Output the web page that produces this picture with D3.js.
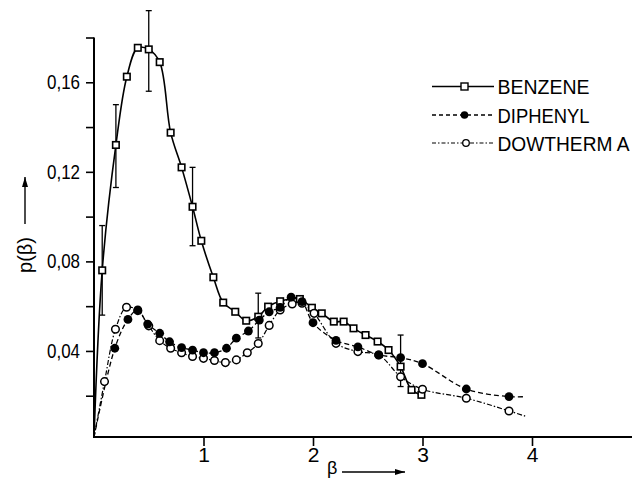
<!DOCTYPE html>
<html>
<head>
<meta charset="utf-8">
<script src="https://cdn.jsdelivr.net/npm/d3@7"></script>
<style>
  body { margin: 0; background: #fff; }
  text { font-family: "Liberation Sans", Arial, sans-serif; fill: #000; }
</style>
</head>
<body>
<svg id="chart" width="638" height="480"></svg>
<script>
// values
const benzeneBeta = [0.075, 0.20, 0.30, 0.40, 0.50, 0.60, 0.70, 0.80, 0.90, 0.98, 1.09, 1.18, 1.29, 1.39, 1.50, 1.59, 1.70, 1.88, 1.99, 2.08, 2.19, 2.28, 2.37, 2.48, 2.59, 2.69, 2.80, 2.90, 2.99];
const benzeneP = [0.076, 0.132, 0.1625, 0.1754, 0.1747, 0.169, 0.1375, 0.122, 0.1044, 0.0892, 0.0729, 0.0616, 0.0575, 0.0535, 0.0553, 0.0598, 0.0622, 0.0632, 0.0593, 0.0568, 0.0531, 0.0531, 0.0501, 0.0471, 0.0442, 0.0404, 0.033, 0.0226, 0.0204];

const diphenylBeta = [0.19, 0.31, 0.40, 0.49, 0.60, 0.69, 0.80, 0.90, 1.00, 1.10, 1.21, 1.30, 1.41, 1.51, 1.60, 1.70, 1.80, 1.90, 2.00, 2.21, 2.41, 2.60, 2.80, 3.00, 3.40, 3.79];
const diphenylP = [0.0412, 0.0541, 0.0583, 0.052, 0.0479, 0.0441, 0.0415, 0.0404, 0.0392, 0.0392, 0.0412, 0.0457, 0.0489, 0.0538, 0.0575, 0.0595, 0.064, 0.062, 0.0526, 0.0447, 0.0418, 0.0382, 0.037, 0.0343, 0.023, 0.0196];

const dowthermBeta = [0.096, 0.196, 0.297, 0.40, 0.50, 0.60, 0.70, 0.80, 0.90, 1.00, 1.10, 1.20, 1.30, 1.40, 1.50, 1.60, 1.70, 1.81, 1.90, 2.01, 2.21, 2.41, 2.60, 2.80, 3.00, 3.40, 3.79];
const dowthermP = [0.0263, 0.0497, 0.0595, 0.058, 0.0512, 0.0446, 0.0412, 0.0392, 0.0375, 0.0367, 0.0357, 0.0348, 0.036, 0.0392, 0.0433, 0.0514, 0.0583, 0.061, 0.0613, 0.0568, 0.0434, 0.0397, 0.0382, 0.0285, 0.0229, 0.0189, 0.0132];

// where the drawn curves start and run out past the last point
const lineStart = [0, 0.0015];
const diphenylEnd = [3.94, 0.0196];
const dowthermEnd = [3.95, 0.0107];

// error bars
const errBeta = [0.075, 0.20, 0.50, 0.90, 1.50, 2.80];
const errLow = [0.056, 0.113, 0.156, 0.087, 0.0458, 0.0241];
const errHigh = [0.096, 0.150, 0.192, 0.122, 0.0658, 0.0471];

const xTicks = [1, 2, 3, 4];
const yTicks = [0.02, 0.04, 0.06, 0.08, 0.10, 0.12, 0.14, 0.16, 0.18];
const yTickLabels = { 0.04: "0,04", 0.08: "0,08", 0.12: "0,12", 0.16: "0,16" };

const legendNames = ["BENZENE", "DIPHENYL", "DOWTHERM A"];
const legendWidths = [92, 92, 132]; // condensed lettering of the original

const svg = d3.select("#chart");

const x = d3.scaleLinear().domain([0, 4]).range([94, 532]);
const y = d3.scaleLinear().domain([0, 0.18]).range([440.5, 37.5]);
const axisY = 437; // baseline drawn just above p = 0

// axes
const yAxis = svg.append("g")
    .attr("transform", `translate(${x(0)},0)`)
    .call(d3.axisLeft(y).tickValues(yTicks).tickSize(8).tickPadding(6)
        .tickFormat(d => yTickLabels[d.toFixed(2) * 1] || ""));
yAxis.select(".domain").remove();
yAxis.selectAll("line").attr("stroke", "#000").attr("stroke-width", 1.6);
yAxis.selectAll("text").style("font-size", "20px").attr("fill", "#000")
    .filter(function () { return this.textContent; })
    .attr("textLength", 33).attr("lengthAdjust", "spacingAndGlyphs");

const xAxis = svg.append("g")
    .attr("transform", `translate(0,${axisY})`)
    .call(d3.axisBottom(x).tickValues(xTicks).tickSize(9).tickPadding(1).tickFormat(d3.format("d")));
xAxis.select(".domain").remove();
xAxis.selectAll("line").attr("stroke", "#000").attr("stroke-width", 1.6);
xAxis.selectAll("text").style("font-size", "21px").attr("fill", "#000");

svg.append("line")
    .attr("x1", x(0)).attr("x2", x(0))
    .attr("y1", y(0.18)).attr("y2", axisY)
    .attr("stroke", "#000").attr("stroke-width", 2);
svg.append("line")
    .attr("x1", x(0) - 1).attr("x2", 632)
    .attr("y1", axisY).attr("y2", axisY)
    .attr("stroke", "#000").attr("stroke-width", 2);

// axis titles with arrows
const arrow = (x1, y1, x2, y2) => {
    svg.append("line").attr("x1", x1).attr("y1", y1).attr("x2", x2).attr("y2", y2)
        .attr("stroke", "#000").attr("stroke-width", 1.4);
    const a = Math.atan2(y2 - y1, x2 - x1), L = 10, W = 3;
    const bx = x2 - L * Math.cos(a), by = y2 - L * Math.sin(a);
    svg.append("path")
        .attr("d", `M${x2},${y2}L${bx - W * Math.sin(a)},${by + W * Math.cos(a)}L${bx + W * Math.sin(a)},${by - W * Math.cos(a)}Z`)
        .attr("fill", "#000");
};

svg.append("text")
    .attr("transform", "translate(32,255) rotate(-90)")
    .attr("text-anchor", "middle")
    .style("font-size", "20px")
    .text("p(β)");
arrow(25, 224, 25, 177);

svg.append("text")
    .attr("x", 327).attr("y", 474)
    .style("font-size", "18px")
    .text("β");
arrow(342, 472, 405, 472);

// curves
const line = d3.line().x(d => x(d[0])).y(d => y(d[1])).curve(d3.curveCatmullRom.alpha(0.5));
const zip = (a, b) => a.map((v, i) => [v, b[i]]);

const benzene = zip(benzeneBeta, benzeneP);
const diphenyl = zip(diphenylBeta, diphenylP);
const dowtherm = zip(dowthermBeta, dowthermP);

svg.append("path").datum([lineStart, ...benzene]).attr("d", line)
    .attr("fill", "none").attr("stroke", "#000").attr("stroke-width", 1.6);
svg.append("path").datum([lineStart, ...diphenyl, diphenylEnd]).attr("d", line)
    .attr("fill", "none").attr("stroke", "#000").attr("stroke-width", 1.3)
    .attr("stroke-dasharray", "5,3");
svg.append("path").datum([lineStart, ...dowtherm, dowthermEnd]).attr("d", line)
    .attr("fill", "none").attr("stroke", "#000").attr("stroke-width", 1.2)
    .attr("stroke-dasharray", "5,2,1.5,2");

// error bars
const errs = errBeta.map((b, i) => ({ b, lo: errLow[i], hi: errHigh[i] }));
const eg = svg.append("g").attr("stroke", "#000").attr("stroke-width", 1.3);
errs.forEach(e => {
    eg.append("line").attr("x1", x(e.b)).attr("x2", x(e.b)).attr("y1", y(e.lo)).attr("y2", y(e.hi));
    eg.append("line").attr("x1", x(e.b) - 3).attr("x2", x(e.b) + 3).attr("y1", y(e.lo)).attr("y2", y(e.lo));
    eg.append("line").attr("x1", x(e.b) - 3).attr("x2", x(e.b) + 3).attr("y1", y(e.hi)).attr("y2", y(e.hi));
});

// markers
const sq = 6.5;
svg.append("g").selectAll("rect").data(benzene).join("rect")
    .attr("x", d => x(d[0]) - sq / 2).attr("y", d => y(d[1]) - sq / 2)
    .attr("width", sq).attr("height", sq)
    .attr("fill", "#fff").attr("stroke", "#000").attr("stroke-width", 1.6);
svg.append("g").selectAll("circle").data(dowtherm).join("circle")
    .attr("cx", d => x(d[0])).attr("cy", d => y(d[1])).attr("r", 3.8)
    .attr("fill", "#fff").attr("stroke", "#000").attr("stroke-width", 1.5);
svg.append("g").selectAll("circle").data(diphenyl).join("circle")
    .attr("cx", d => x(d[0])).attr("cy", d => y(d[1])).attr("r", 4.4)
    .attr("fill", "#000");

// legend
const legY = [86.5, 115, 143];
const leg = svg.append("g");
legendNames.forEach((name, i) => {
    const ly = legY[i];
    const l = leg.append("line").attr("x1", 432).attr("x2", 494).attr("y1", ly).attr("y2", ly)
        .attr("stroke", "#000");
    if (i === 0) {
        l.attr("stroke-width", 1.5);
        leg.append("rect").attr("x", 461).attr("y", ly - 3.5).attr("width", 7).attr("height", 7)
            .attr("fill", "#fff").attr("stroke", "#000").attr("stroke-width", 1.4);
    } else if (i === 1) {
        l.attr("stroke-width", 1.3).attr("stroke-dasharray", "4,3");
        leg.append("circle").attr("cx", 464.5).attr("cy", ly).attr("r", 3.8).attr("fill", "#000");
    } else {
        l.attr("stroke-width", 1.2).attr("stroke-dasharray", "4,2,1.5,2");
        leg.append("circle").attr("cx", 466).attr("cy", ly).attr("r", 3.3)
            .attr("fill", "#fff").attr("stroke", "#000").attr("stroke-width", 1.3);
    }
    leg.append("text").attr("x", 497.5).attr("y", ly + 7.5)
        .style("font-size", "19.5px")
        .attr("textLength", legendWidths[i]).attr("lengthAdjust", "spacingAndGlyphs")
        .text(name);
});
</script>
</body>
</html>
